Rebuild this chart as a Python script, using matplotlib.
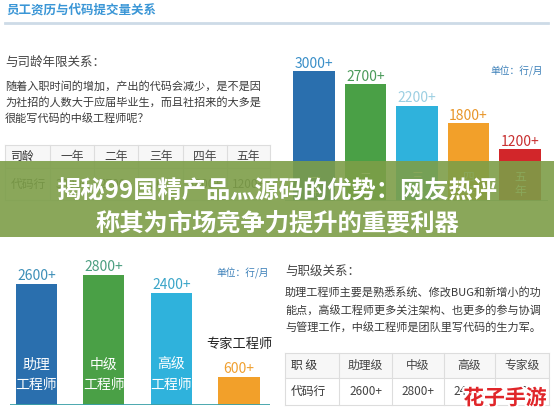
import matplotlib
matplotlib.use('Agg')
import matplotlib.pyplot as plt
import matplotlib.patheffects as pe
from matplotlib.patches import Rectangle

plt.rcParams['font.family'] = ['Noto Sans CJK SC', 'DejaVu Sans']

W, H = 554, 416

# data
years = ['一年', '二年', '三年', '四年', '五年']
year_lines = [3000, 2700, 2200, 1800, 1200]
year_colors = ['#2a6fae', '#4aa046', '#2fb2dc', '#f2a02a', '#d2262a']
year_label_colors = ['#3a8fc8', '#4a9a5a', '#9ccfe2', '#e8962a', '#c83030']

levels = ['助理\n工程师', '中级\n工程师', '高级\n工程师', '专家工程师']
level_short = ['助理级', '中级', '高级', '专家级']
level_lines = [2600, 2800, 2400, 600]
level_colors = ['#2a6fae', '#4aa046', '#2fb2dc', '#f2a02a']
level_label_colors = ['#3d8fb8', '#4a9e80', '#3aa5c8', '#f0a030']

title = '员工资历与代码提交量关系'
sec1 = '与司龄年限关系：'
para1 = ['随着入职时间的增加，产出的代码会减少，是不是因',
         '为社招的人数大于应届毕业生，而且社招来的大多是',
         '很能写代码的中级工程师呢？']
sec2 = '与职级关系：'
para2 = ['助理工程师主要是熟悉系统、修改BUG和新增小的功',
         '能点，高级工程师更多关注架构、也更多的参与协调',
         '与管理工作，中级工程师是团队里写代码的生力军。']
banner = ['揭秘99国精产品灬源码的优势：网友热评', '称其为市场竞争力提升的重要利器']
unit = '单位：行/月'


def frac(l, t, r, b):
    return [l / W, 1 - b / H, (r - l) / W, (b - t) / H]


fig = plt.figure(figsize=(5.54, 4.16), dpi=100)
fig.patch.set_facecolor('white')

ax = fig.add_axes([0, 0, 1, 1])
ax.set_xlim(0, W)
ax.set_ylim(H, 0)
ax.axis('off')

ax.text(6, 10, title, fontsize=9, fontweight='bold', color='#3a96d6', va='center')
ax.plot([5, 548], [23, 23], color='#cddbe7', lw=2)

ax.text(5, 62, sec1, fontsize=9, color='#444444', va='center')
for i, line in enumerate(para1):
    ax.text(5, 86 + i * 16, line, fontsize=8, color='#3a3a3a', va='center')

ax.text(285, 272, sec2, fontsize=9, color='#444444', va='center')
for i, line in enumerate(para2):
    ax.text(285, 293 + i * 17, line, fontsize=8, color='#3a3a3a', va='center')


def table(xs, ys, rows, header_bg='#f7f7f7'):
    ax.add_patch(Rectangle((xs[0], ys[0]), xs[-1] - xs[0], ys[1] - ys[0],
                           facecolor=header_bg, edgecolor='none'))
    for x in xs:
        ax.plot([x, x], [ys[0], ys[-1]], color='#dddddd', lw=0.8)
    for y in ys:
        ax.plot([xs[0], xs[-1]], [y, y], color='#dddddd', lw=0.8)
    for r, row in enumerate(rows):
        yc = (ys[r] + ys[r + 1]) / 2
        for c, txt in enumerate(row):
            if c == 0:
                ax.text(xs[0] + 6, yc, txt, fontsize=8.5, color='#333333', va='center')
            else:
                ax.text((xs[c] + xs[c + 1]) / 2, yc, txt, fontsize=8.5, color='#444444',
                        va='center', ha='center')


table([5, 50, 94, 138, 183, 227, 270], [145, 168, 200],
      [['司龄'] + years, ['代码行'] + [f'{v}+' for v in year_lines]])
table([285, 339, 392, 444, 495, 549], [353, 378, 405],
      [['职 级'] + level_short, ['代码行'] + [f'{v}+' for v in level_lines]])

# top bar chart
ax1 = fig.add_axes(frac(285, 60, 548, 201))
xs1 = range(len(years))
ax1.bar(xs1, year_lines, width=0.81, color=year_colors)
ax1.set_xlim(-0.56, 4.54)
ax1.set_ylim(0, 3254)
ax1.axis('off')
ax1.axhline(0, color='#8fb6b8', lw=2)
for i, v in enumerate(year_lines):
    ax1.text(i, v + 10, f'{v}+', ha='center', va='bottom', fontsize=10,
             color=year_label_colors[i])
    ax1.text(i, 380, '\n'.join(years[i]), ha='center', va='center', fontsize=8.5,
             color='white', linespacing=1.1)
ax1.text(4.45, 3000, unit, ha='right', va='center', fontsize=7, color='#3a7fb8')

# bottom bar chart
ax2 = fig.add_axes(frac(10, 262, 270, 405))
xs2 = range(len(levels))
ax2.bar(xs2, level_lines, width=0.61, color=level_colors)
ax2.set_xlim(-0.39, 3.46)
ax2.set_ylim(0, 3075)
ax2.axis('off')
ax2.axhline(0, color='#3aa0a8', lw=2)
for i, v in enumerate(level_lines):
    ax2.text(i, v + 20, f'{v}+', ha='center', va='bottom', fontsize=10,
             color=level_label_colors[i])
    if i < 3:
        ax2.text(i, 650, levels[i], ha='center', va='center', fontsize=10,
                 color='white', linespacing=1.5)
    else:
        ax2.text(i, v + 560, levels[i], ha='center', va='bottom', fontsize=9.5,
                 color='#222222')
ax2.text(3.45, 2820, unit, ha='right', va='center', fontsize=7, color='#3a7fb8')

# overlay banner and watermark
ov = fig.add_axes([0, 0, 1, 1], facecolor='none')
ov.set_xlim(0, W)
ov.set_ylim(H, 0)
ov.axis('off')
ov.add_patch(Rectangle((0, 161), W, 76, facecolor='#7d9e48', alpha=0.9, edgecolor='none'))
ov.text(277, 192, banner[0], ha='center', va='center', fontsize=17.5, fontweight='black',
        color='white')
ov.text(277, 224, banner[1], ha='center', va='center', fontsize=17.5, fontweight='black',
        color='white')
ov.text(505, 398, '花子手游', ha='center', va='center', fontsize=15, fontweight='black',
        color='#e0262a', path_effects=[pe.withStroke(linewidth=3, foreground='white')])

fig.savefig('out.png', dpi=100)
